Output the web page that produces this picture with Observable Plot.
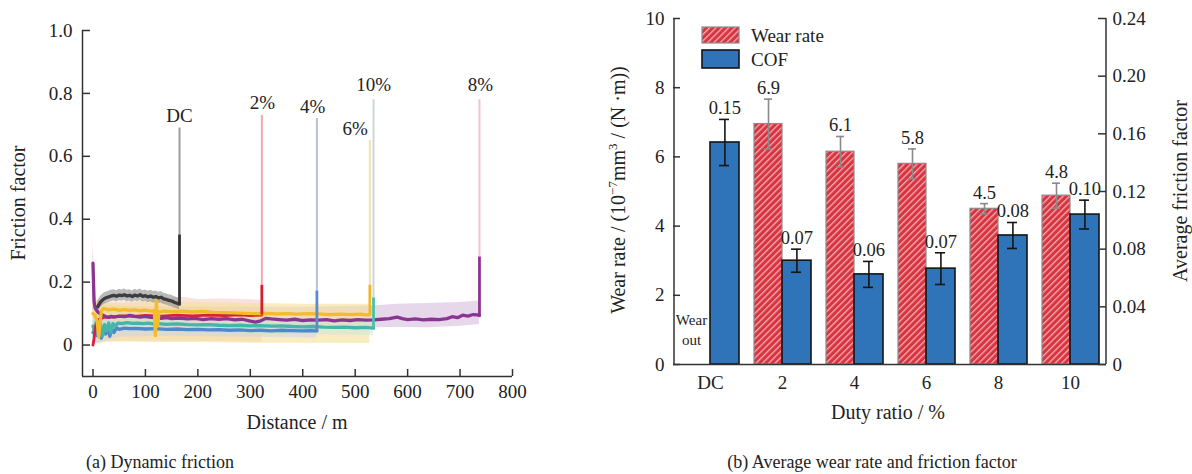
<!DOCTYPE html>
<html>
<head>
<meta charset="utf-8">
<script src="https://cdn.jsdelivr.net/npm/d3@7"></script>
<script src="https://cdn.jsdelivr.net/npm/@observablehq/plot@0.6"></script>
<style>
  body { margin: 0; background: #fff; }
  #fig { position: relative; width: 1192px; height: 474px; overflow: hidden; background: #fff;
         font-family: "Liberation Serif", "Times New Roman", serif; color: #222; }
  #left { position: absolute; left: 0; top: 0; width: 580px; height: 440px; }
  #right { position: absolute; left: 590px; top: 0; width: 602px; height: 440px; }
  .lbl { position: absolute; white-space: nowrap; transform: translate(-50%, -50%); font-size: 20px; line-height: 1; }
  .rot { transform: translate(-50%, -50%) rotate(-90deg); }
  .cap { font-size: 18px; }
  sup { font-size: 0.65em; line-height: 0; }
</style>
</head>
<body>
<div id="fig">
  <div id="left"></div>
  <div id="right"></div>
  <div class="lbl rot" style="left:18px; top:203px;">Friction factor</div>
  <div class="lbl" style="left:297px; top:422px;">Distance / m</div>
  <div class="lbl cap" style="left:160px; top:462px;">(a) Dynamic friction</div>
  <div class="lbl rot" style="left:618px; top:190px; font-size:20px;">Wear rate / (10<sup>−7</sup>mm<sup>3</sup> / (N ·m))</div>
  <div class="lbl rot" style="left:1180px; top:191px;">Average friction factor</div>
  <div class="lbl" style="left:888px; top:412px;">Duty ratio / %</div>
  <div class="lbl cap" style="left:872px; top:462px;">(b) Average wear rate and friction factor</div>
</div>
<script>
// ---------------- (a) Dynamic friction: [distance m, friction factor] ----------------
const distTicks = [0, 100, 200, 300, 400, 500, 600, 700, 800];
const frictionTicks = [0, 0.2, 0.4, 0.6, 0.8, 1.0];

const dcLine = [[9,0.122],[12,0.13],[15,0.138],[18,0.143],[22,0.148],[26,0.151],[30,0.153],[35,0.156],[40,0.158],[45,0.155],[50,0.159],[55,0.157],[60,0.16],[65,0.156],[70,0.158],[75,0.154],[80,0.159],[85,0.156],[90,0.16],[95,0.155],[100,0.157],[105,0.153],[110,0.156],[115,0.152],[120,0.154],[125,0.15],[130,0.152],[135,0.147],[140,0.145],[145,0.142],[150,0.14],[155,0.136],[160,0.133],[165,0.13]];
const dcSpread = 0.018;

const red2 = [[0,0.0],[2,0.02],[5,0.06],[10,0.08],[20,0.088],[40,0.09],[60,0.093],[80,0.091],[100,0.094],[130,0.092],[160,0.095],[190,0.093],[220,0.095],[250,0.094],[280,0.096],[300,0.094],[322,0.095]];

const blue4 = [[0,0.04],[4,0.052],[8,0.03],[12,0.058],[16,0.022],[20,0.05],[24,0.035],[28,0.056],[32,0.028],[36,0.052],[40,0.04],[45,0.055],[50,0.05],[60,0.054],[70,0.052],[80,0.053],[100,0.051],[120,0.052],[140,0.05],[160,0.051],[180,0.049],[200,0.05],[220,0.048],[240,0.049],[260,0.047],[280,0.048],[300,0.046],[320,0.047],[340,0.045],[360,0.047],[380,0.046],[400,0.045],[415,0.046],[427,0.045]];

const yellow6 = [[0,0.1],[4,0.095],[8,0.075],[11,0.025],[13,0.06],[16,0.108],[20,0.116],[30,0.112],[40,0.114],[50,0.11],[60,0.113],[70,0.11],[80,0.112],[90,0.109],[100,0.111],[110,0.108],[117,0.109],[119,0.03],[121,0.145],[123,0.06],[126,0.105],[135,0.108],[150,0.106],[170,0.108],[190,0.105],[210,0.107],[230,0.104],[250,0.103],[270,0.102],[290,0.101],[310,0.1],[330,0.101],[350,0.099],[370,0.1],[390,0.098],[410,0.1],[430,0.099],[450,0.097],[470,0.098],[490,0.097],[510,0.098],[520,0.096],[528,0.097]];

const purple8 = [[0,0.26],[2,0.14],[4,0.118],[7,0.11],[10,0.104],[15,0.098],[20,0.094],[25,0.09],[30,0.088],[35,0.091],[40,0.089],[50,0.092],[60,0.09],[70,0.094],[80,0.091],[90,0.089],[100,0.091],[110,0.088],[120,0.087],[130,0.085],[140,0.087],[150,0.084],[165,0.086],[180,0.083],[195,0.085],[210,0.081],[225,0.084],[240,0.082],[255,0.084],[270,0.08],[285,0.082],[300,0.076],[310,0.073],[320,0.077],[330,0.085],[340,0.083],[355,0.081],[370,0.079],[385,0.082],[400,0.078],[415,0.08],[430,0.079],[445,0.081],[460,0.077],[475,0.08],[490,0.078],[505,0.081],[520,0.079],[535,0.08],[550,0.082],[565,0.084],[580,0.089],[590,0.084],[600,0.081],[615,0.083],[630,0.08],[645,0.082],[660,0.081],[675,0.084],[685,0.09],[695,0.087],[705,0.095],[715,0.092],[725,0.097],[733,0.096],[737,0.094]];

const teal10 = [[0,0.06],[3,0.045],[6,0.072],[10,0.035],[14,0.068],[18,0.03],[22,0.065],[26,0.045],[30,0.07],[34,0.04],[38,0.068],[42,0.06],[48,0.07],[55,0.068],[65,0.071],[75,0.069],[85,0.07],[95,0.068],[105,0.07],[115,0.067],[125,0.068],[140,0.066],[160,0.067],[180,0.065],[200,0.064],[220,0.065],[240,0.063],[260,0.062],[280,0.063],[300,0.061],[320,0.062],[340,0.06],[360,0.061],[380,0.059],[400,0.058],[420,0.059],[440,0.057],[460,0.056],[480,0.057],[500,0.055],[520,0.056],[535,0.054]];

// scatter bands: [distance, lower, upper]
const pinkBand2 = [[0,0.0,0.35],[3,0.0,0.2],[6,0.008,0.14],[20,0.012,0.135],[60,0.013,0.138],[100,0.012,0.14],[140,0.012,0.148],[170,0.013,0.152],[200,0.012,0.145],[250,0.011,0.146],[300,0.01,0.144],[322,0.01,0.142]];
const yellowBand6 = [[0,0.03,0.15],[10,0.002,0.14],[20,0.008,0.135],[60,0.01,0.132],[120,0.008,0.14],[200,0.008,0.135],[300,0.006,0.132],[400,0.006,0.13],[500,0.005,0.13],[528,0.005,0.13]];
const tealBand10 = [[0,0.02,0.09],[50,0.04,0.09],[150,0.04,0.088],[300,0.035,0.085],[450,0.032,0.08],[535,0.03,0.08]];
const blueBand4 = [[0,0.0,0.08],[50,0.025,0.075],[150,0.028,0.072],[300,0.025,0.068],[427,0.022,0.066]];
const purpleBand8 = [[0,0.1,0.3],[3,0.07,0.16],[10,0.06,0.125],[100,0.062,0.122],[250,0.058,0.12],[400,0.056,0.12],[535,0.055,0.124],[580,0.056,0.13],[640,0.055,0.132],[700,0.06,0.135],[737,0.065,0.14]];

// failure spikes and labels
const seriesNames   = ["DC", "2%", "4%", "6%", "10%", "8%"];
const spikeDist     = [165, 322, 427, 528, 535, 737];
const spikeFrom     = [0.13, 0.095, 0.045, 0.097, 0.054, 0.094];
const spikeTo       = [0.35, 0.19, 0.172, 0.19, 0.15, 0.28];
const traceTop      = [0.69, 0.73, 0.72, 0.65, 0.78, 0.78];
const labelDist     = [165, 323, 419, 500, 535, 739];
const labelFriction = [0.727, 0.771, 0.756, 0.687, 0.828, 0.828];

// ---------------- (b) Average wear rate and friction factor ----------------
const dutyRatios = ["DC", "2", "4", "6", "8", "10"];
const wearRate   = [null, 6.95, 6.15, 5.8, 4.5, 4.88];
const wearErr    = [null, 0.72, 0.44, 0.43, 0.15, 0.36];
const wearText   = [null, "6.9", "6.1", "5.8", "4.5", "4.8"];
const cofMean    = [0.154, 0.072, 0.0625, 0.0665, 0.0895, 0.104];
const cofErr     = [0.016, 0.008, 0.009, 0.011, 0.009, 0.01];
const cofText    = ["0.15", "0.07", "0.06", "0.07", "0.08", "0.10"];
const wearTicks  = [0, 2, 4, 6, 8, 10];
const cofTicks   = [0, 0.04, 0.08, 0.12, 0.16, 0.20, 0.24];
const cofPerWearUnit = 0.024;   // right axis 0.24 == left axis 10

// ---------------- build (a) ----------------
const rows = p => p.map(([d, f]) => ({d, f}));
const bandRows = p => p.map(([d, lo, hi]) => ({d, lo, hi}));
const dcBand = dcLine.map(([d, f]) => ({d, lo: f - dcSpread, hi: f + dcSpread}));
const spikes = seriesNames.map((name, i) => ({name, d: spikeDist[i], from: spikeFrom[i], to: spikeTo[i], top: traceTop[i], ld: labelDist[i], lf: labelFriction[i]}));
const spikeColor = {"DC": "#333333", "2%": "#d41f2f", "4%": "#5d8bc9", "6%": "#f0b626", "10%": "#4cc0a8", "8%": "#8b3592"};
const traceColor = {"DC": "#9c9c9c", "2%": "#f2a6ae", "4%": "#b6c1dc", "6%": "#f1e3ad", "10%": "#d0d6d6", "8%": "#eec4d6"};
const axisColor = "#333";
const serif = "Liberation Serif, Times New Roman, serif";
const lw = 3.3;

const leftPlot = Plot.plot({
  width: 580, height: 440,
  marginLeft: 82, marginRight: 68, marginTop: 30, marginBottom: 64,
  x: {domain: [-20, 800], label: null},
  y: {domain: [-0.1, 1.0], label: null},
  style: {fontFamily: serif, fontSize: "19px", color: "#222", background: "transparent"},
  marks: [
    Plot.areaY(bandRows(purpleBand8), {x: "d", y1: "lo", y2: "hi", fill: "#d9c2de", fillOpacity: 0.65}),
    Plot.areaY(bandRows(pinkBand2), {x: "d", y1: "lo", y2: "hi", fill: "#f3c6bb", fillOpacity: 0.5}),
    Plot.areaY(bandRows(yellowBand6), {x: "d", y1: "lo", y2: "hi", fill: "#f5df98", fillOpacity: 0.6}),
    Plot.areaY(bandRows(tealBand10), {x: "d", y1: "lo", y2: "hi", fill: "#bfe6df", fillOpacity: 0.45}),
    Plot.areaY(bandRows(blueBand4), {x: "d", y1: "lo", y2: "hi", fill: "#c3d3ee", fillOpacity: 0.45}),
    Plot.areaY(dcBand, {x: "d", y1: "lo", y2: "hi", fill: "#8c8c8c", fillOpacity: 0.6}),
    Plot.ruleX(spikes, {x: "d", y1: "to", y2: "top", stroke: d => traceColor[d.name], strokeWidth: 2}),
    Plot.lineY(rows(blue4), {x: "d", y: "f", stroke: "#4f86cc", strokeWidth: lw}),
    Plot.lineY(rows(teal10), {x: "d", y: "f", stroke: "#45b5a8", strokeWidth: lw}),
    Plot.lineY(rows(red2), {x: "d", y: "f", stroke: "#d8203a", strokeWidth: 2.8}),
    Plot.lineY(rows(purple8), {x: "d", y: "f", stroke: "#8b3592", strokeWidth: lw}),
    Plot.lineY(rows(yellow6), {x: "d", y: "f", stroke: "#f1bd2c", strokeWidth: lw}),
    Plot.lineY(rows(dcLine), {x: "d", y: "f", stroke: "#3d3d3d", strokeWidth: lw}),
    Plot.ruleX(spikes, {x: "d", y1: "from", y2: "to", stroke: d => spikeColor[d.name], strokeWidth: 2.8}),
    Plot.text(spikes, {x: "ld", y: "lf", text: "name", fontSize: 19, fill: "#222"}),
    Plot.ruleX([-20], {stroke: axisColor, strokeWidth: 1.5}),
    Plot.ruleY([-0.1], {stroke: axisColor, strokeWidth: 1.5}),
    Plot.tickY(frictionTicks, {insetRight: 422, stroke: axisColor, strokeWidth: 1.5}),
    Plot.tickX(distTicks, {insetTop: 339, stroke: axisColor, strokeWidth: 1.5}),
    Plot.axisX({ticks: distTicks, tickSize: 0, tickPadding: 8, fontSize: 19, fill: "#222"}),
    Plot.axisY({ticks: frictionTicks, tickSize: 0, tickPadding: 10, fontSize: 19, fill: "#222",
                tickFormat: d => d === 0 ? "0" : d.toFixed(1)})
  ]
});
document.getElementById("left").appendChild(leftPlot);

// ---------------- build (b) ----------------
const wearData = dutyRatios.map((duty, i) => ({duty, v: wearRate[i], e: wearErr[i], t: wearText[i]})).filter(d => d.v != null);
const cofData = dutyRatios.map((duty, i) => ({duty, v: cofMean[i] / cofPerWearUnit, e: cofErr[i] / cofPerWearUnit, t: cofText[i]}));
const redDx = -14, blueDx = 14.4;

const rightPlot = Plot.plot({
  width: 602, height: 440,
  marginLeft: 83, marginRight: 86, marginTop: 18, marginBottom: 76,
  x: {type: "band", domain: dutyRatios, padding: 0, label: null},
  y: {domain: [0, 10], label: null},
  style: {fontFamily: serif, fontSize: "19px", color: "#222", background: "transparent"},
  marks: [
    Plot.barY(wearData, {x: "duty", y: "v", fill: "url(#hatch)", stroke: "#8a8a8a", strokeWidth: 1.2, insetLeft: 8, insetRight: 36}),
    Plot.ruleX(wearData, {x: "duty", y1: d => d.v - d.e, y2: d => d.v + d.e, dx: redDx, stroke: "#8a8a8a", strokeWidth: 1.6}),
    Plot.tickY(wearData, {x: "duty", y: d => d.v + d.e, insetLeft: 18, insetRight: 46, stroke: "#8a8a8a", strokeWidth: 1.6}),
    Plot.tickY(wearData, {x: "duty", y: d => d.v - d.e, insetLeft: 18, insetRight: 46, stroke: "#8a8a8a", strokeWidth: 1.6}),
    Plot.text(wearData, {x: "duty", y: d => d.v + d.e, text: "t", dx: redDx, dy: -11, fontSize: 18.5, fill: "#222"}),
    Plot.barY(cofData, {x: "duty", y: "v", fill: "#2f73b8", stroke: "#151515", strokeWidth: 1.6, insetLeft: 36, insetRight: 7}),
    Plot.ruleX(cofData, {x: "duty", y1: d => d.v - d.e, y2: d => d.v + d.e, dx: blueDx, stroke: "#151515", strokeWidth: 1.6}),
    Plot.tickY(cofData, {x: "duty", y: d => d.v + d.e, insetLeft: 45, insetRight: 17, stroke: "#151515", strokeWidth: 1.6}),
    Plot.tickY(cofData, {x: "duty", y: d => d.v - d.e, insetLeft: 45, insetRight: 17, stroke: "#151515", strokeWidth: 1.6}),
    Plot.text(cofData, {x: "duty", y: d => d.v + d.e, text: "t", dx: blueDx, dy: -11, fontSize: 18.5, fill: "#222"}),
    Plot.text([{duty: "DC", note: "Wear\nout"}], {x: "duty", y: 1.04, text: "note", dx: -19, fontSize: 15, lineHeight: 1.3, fill: "#222"}),
    Plot.ruleY([0], {stroke: axisColor, strokeWidth: 1.5}),
    Plot.tickY(wearTicks, {insetRight: 426, stroke: axisColor, strokeWidth: 1.5}),
    Plot.tickY(cofTicks.map(t => t / cofPerWearUnit), {insetLeft: 425, stroke: axisColor, strokeWidth: 1.5}),
    Plot.axisX({tickSize: 0, tickPadding: 11, fontSize: 19, fill: "#222"}),
    Plot.axisY({ticks: wearTicks, anchor: "left", tickSize: 0, tickPadding: 9, fontSize: 19, fill: "#222"}),
    Plot.axisY({ticks: cofTicks.map(t => t / cofPerWearUnit), anchor: "right", tickSize: 0, tickPadding: 6, fontSize: 19, fill: "#222",
                tickFormat: d => { const v = d * cofPerWearUnit; return Math.abs(v) < 1e-9 ? "0" : v.toFixed(2); }})
  ]
});
document.getElementById("right").appendChild(rightPlot);

// hatch pattern for the wear-rate bars
const svgR = d3.select(rightPlot);
const defs = svgR.insert("defs", ":first-child");
const pat = defs.append("pattern").attr("id", "hatch").attr("patternUnits", "userSpaceOnUse")
  .attr("width", 4.5).attr("height", 4.5).attr("patternTransform", "rotate(45)");
pat.append("rect").attr("width", 4.5).attr("height", 4.5).attr("fill", "#d8343f");
pat.append("line").attr("x1", 0.7).attr("y1", 0).attr("x2", 0.7).attr("y2", 4.5).attr("stroke", "#f6b9bf").attr("stroke-width", 1.2);

// left and right axis lines, from the plot's own scales
const sx = rightPlot.scale("x"), sy = rightPlot.scale("y");
const xLeft = sx.apply(dutyRatios[0]);
const xRight = sx.apply(dutyRatios[dutyRatios.length - 1]) + sx.bandwidth;
const yBottom = sy.apply(0), yTop = sy.apply(10);
const ag = svgR.append("g").attr("stroke", axisColor).attr("stroke-width", 1.5);
ag.append("line").attr("x1", xLeft).attr("x2", xLeft).attr("y1", yBottom).attr("y2", yTop);
ag.append("line").attr("x1", xRight).attr("x2", xRight).attr("y1", yBottom).attr("y2", yTop);

// legend
const lg = svgR.append("g").attr("font-family", serif).attr("font-size", 19).attr("fill", "#222").attr("text-anchor", "start");
lg.append("rect").attr("x", 112).attr("y", 27).attr("width", 37).attr("height", 16).attr("fill", "url(#hatch)").attr("stroke", "#8a8a8a").attr("stroke-width", 1.2);
lg.append("text").attr("x", 161).attr("y", 42).text("Wear rate");
lg.append("rect").attr("x", 112).attr("y", 50).attr("width", 37).attr("height", 18).attr("fill", "#2f73b8").attr("stroke", "#151515").attr("stroke-width", 1.6);
lg.append("text").attr("x", 161).attr("y", 66).text("COF");
</script>
</body>
</html>
